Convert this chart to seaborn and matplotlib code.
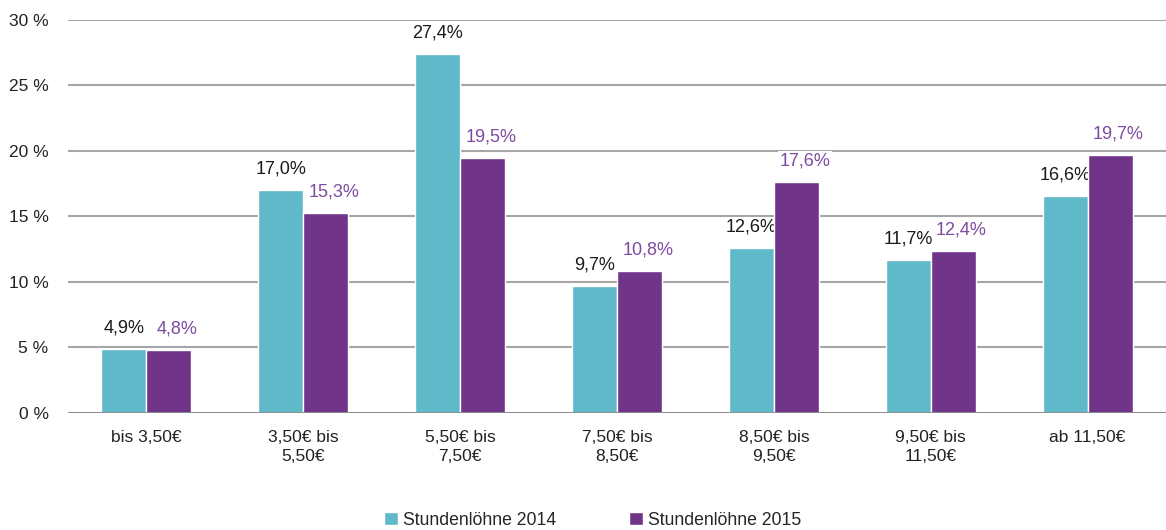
import pandas as pd
import seaborn as sns
import matplotlib.pyplot as plt

# Data
categories = ["bis 3,50€", "3,50€ bis\n5,50€", "5,50€ bis\n7,50€", "7,50€ bis\n8,50€",
              "8,50€ bis\n9,50€", "9,50€ bis\n11,50€", "ab 11,50€"]
werte_2014 = [4.9, 17.0, 27.4, 9.7, 12.6, 11.7, 16.6]
werte_2015 = [4.8, 15.3, 19.5, 10.8, 17.6, 12.4, 19.7]
series = ["Stundenlöhne 2014", "Stundenlöhne 2015"]
y_ticks = [0, 5, 10, 15, 20, 25, 30]

colors = {"Stundenlöhne 2014": "#5fb9c9", "Stundenlöhne 2015": "#703589"}
label_colors = {"Stundenlöhne 2014": "#1a1a1a", "Stundenlöhne 2015": "#7f4ba0"}

df = pd.DataFrame({
    "Kategorie": categories * 2,
    "Serie": [series[0]] * len(categories) + [series[1]] * len(categories),
    "Wert": werte_2014 + werte_2015,
})

sns.set_style("white")
plt.rcParams["font.family"] = ["Liberation Sans", "DejaVu Sans"]

fig = plt.figure(figsize=(11.66, 5.3), dpi=100)
ax = fig.add_axes([0.0583, 0.2208, 0.9417, 0.7415])

sns.barplot(data=df, x="Kategorie", y="Wert", hue="Serie", palette=colors,
            width=0.574, saturation=1, ax=ax, legend=True, zorder=3)

ax.set_ylim(0, 30)
ax.set_xlim(-0.5, len(categories) - 0.5)
ax.set_yticks(y_ticks)
ax.set_yticklabels([f"{t} %" for t in y_ticks], fontsize=12.5, color="#222222")
ax.tick_params(axis="x", labelsize=12.5, labelcolor="#222222", length=0, pad=12)
ax.tick_params(axis="y", length=0, pad=14)
for lbl in ax.get_xticklabels():
    lbl.set_linespacing(1.35)
ax.grid(axis="y", color="#a6a6a6", linewidth=1.5, zorder=0)
ax.set_axisbelow(True)
ax.axhline(0, color="#8c8c8c", linewidth=2, zorder=4)
for s in ax.spines.values():
    s.set_visible(False)
ax.set_xlabel("")
ax.set_ylabel("")

# Value labels with white background (kept behind the bars)
for container, name in zip(ax.containers, series):
    dx = 6 if name == series[1] else 0
    for bar in container:
        h = bar.get_height()
        ax.annotate(f"{h:.1f}%".replace(".", ","),
                    (bar.get_x() + bar.get_width() / 2, h),
                    xytext=(dx, 9), textcoords="offset points",
                    ha="center", va="bottom", fontsize=13,
                    color=label_colors[name], zorder=2.5,
                    bbox=dict(facecolor="white", edgecolor="none", pad=1))

leg = ax.legend(loc="lower center", bbox_to_anchor=(0.478, -0.335), ncol=2,
                frameon=False, fontsize=12.7, handlelength=0.8, handleheight=0.8,
                handletextpad=0.3, columnspacing=4.1)

plt.savefig("out.png", dpi=100)
